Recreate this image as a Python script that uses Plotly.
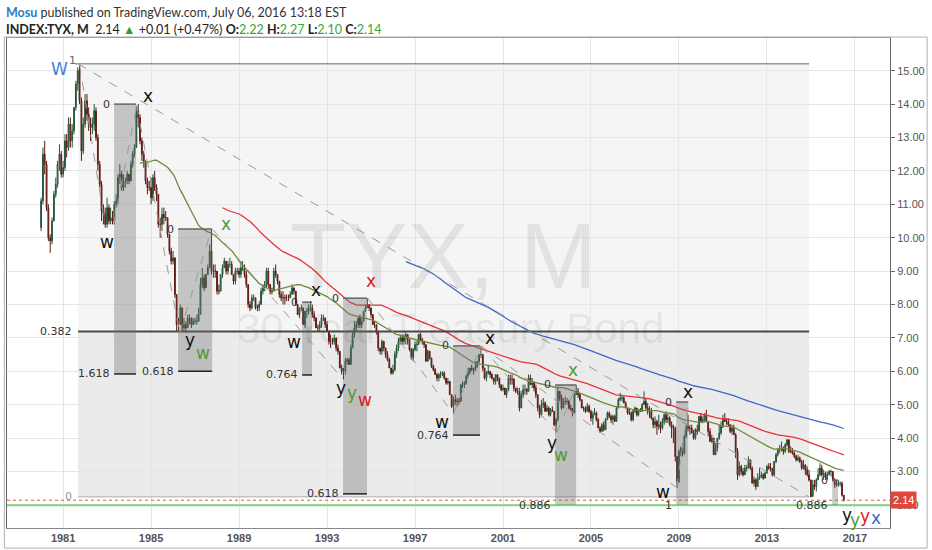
import plotly.graph_objects as go
import pandas as pd
from datetime import datetime, timedelta

# ---------------- DATA (monthly, Jan 1980 - Jul 2016) ----------------
first_open = 10.3
close_by_year = {
    1980: [11.1, 12.5, 12.2, 10.9, 10.0, 9.9, 10.5, 11.3, 11.6, 12.2, 12.5, 11.9],
    1981: [12.1, 12.9, 12.7, 13.4, 12.9, 13.2, 13.9, 14.6, 15.0, 14.1, 12.6, 13.4],
    1982: [14.1, 13.7, 13.4, 13.3, 13.4, 13.8, 13.0, 12.2, 11.6, 10.8, 10.7, 10.4],
    1983: [10.9, 10.5, 10.6, 10.5, 11.0, 11.1, 11.8, 11.9, 11.5, 11.7, 11.7, 11.9],
    1984: [11.7, 12.2, 12.5, 12.7, 13.8, 13.6, 12.9, 12.5, 12.3, 11.7, 11.5, 11.5],
    1985: [11.2, 11.8, 11.5, 11.3, 10.4, 10.4, 10.7, 10.6, 10.6, 10.1, 9.6, 9.3],
    1986: [9.4, 8.3, 7.4, 7.4, 7.9, 7.3, 7.4, 7.3, 7.6, 7.6, 7.4, 7.5],
    1987: [7.5, 7.5, 7.7, 8.6, 8.8, 8.5, 8.9, 9.1, 9.6, 9.0, 9.0, 9.0],
    1988: [8.4, 8.4, 8.9, 9.1, 9.3, 9.0, 9.2, 9.2, 8.9, 8.7, 9.0, 9.0],
    1989: [8.9, 9.1, 9.1, 8.9, 8.6, 8.0, 7.9, 8.2, 8.2, 7.9, 7.9, 8.0],
    1990: [8.4, 8.5, 8.6, 9.0, 8.6, 8.4, 8.4, 9.0, 8.9, 8.7, 8.3, 8.2],
    1991: [8.2, 8.2, 8.2, 8.2, 8.3, 8.5, 8.4, 8.0, 7.7, 7.9, 7.9, 7.4],
    1992: [7.8, 7.8, 7.9, 7.9, 7.7, 7.6, 7.3, 7.3, 7.4, 7.6, 7.6, 7.4],
    1993: [7.2, 6.9, 6.9, 6.9, 7.0, 6.7, 6.6, 6.1, 6.0, 6.0, 6.3, 6.35],
    1994: [6.2, 6.7, 7.1, 7.3, 7.4, 7.6, 7.4, 7.5, 7.8, 7.9, 8.0, 7.9],
    1995: [7.7, 7.4, 7.4, 7.2, 6.7, 6.6, 6.9, 6.7, 6.5, 6.35, 6.1, 5.95],
    1996: [6.05, 6.5, 6.7, 6.9, 7.0, 6.9, 7.0, 7.1, 6.95, 6.65, 6.4, 6.65],
    1997: [6.8, 6.8, 7.1, 6.95, 6.9, 6.8, 6.3, 6.6, 6.4, 6.15, 6.05, 5.9],
    1998: [5.8, 5.9, 5.9, 5.95, 5.8, 5.65, 5.7, 5.3, 4.95, 5.15, 5.1, 5.1],
    1999: [5.1, 5.6, 5.6, 5.65, 5.85, 5.95, 6.1, 6.05, 6.05, 6.15, 6.3, 6.5],
    2000: [6.5, 6.1, 5.8, 5.95, 6.0, 5.9, 5.8, 5.7, 5.9, 5.8, 5.6, 5.45],
    2001: [5.5, 5.3, 5.45, 5.8, 5.75, 5.75, 5.5, 5.4, 5.4, 4.9, 5.3, 5.45],
    2002: [5.45, 5.4, 5.8, 5.6, 5.65, 5.5, 5.3, 4.9, 4.7, 5.0, 5.05, 4.8],
    2003: [4.9, 4.7, 4.85, 4.8, 4.4, 4.55, 5.4, 5.2, 4.9, 5.1, 5.1, 5.1],
    2004: [4.9, 4.85, 4.75, 5.3, 5.4, 5.3, 5.15, 4.9, 4.9, 4.8, 4.95, 4.8],
    2005: [4.6, 4.7, 4.75, 4.55, 4.3, 4.2, 4.4, 4.25, 4.55, 4.75, 4.65, 4.55],
    2006: [4.65, 4.5, 4.9, 5.15, 5.2, 5.2, 5.05, 4.9, 4.75, 4.75, 4.55, 4.8],
    2007: [4.9, 4.7, 4.85, 4.8, 5.0, 5.1, 4.9, 4.8, 4.8, 4.6, 4.4, 4.5],
    2008: [4.35, 4.4, 4.3, 4.5, 4.7, 4.55, 4.6, 4.4, 4.3, 4.3, 3.45, 2.7],
    2009: [3.6, 3.7, 3.55, 4.05, 4.35, 4.3, 4.3, 4.15, 4.0, 4.25, 4.2, 4.65],
    2010: [4.5, 4.55, 4.7, 4.5, 4.2, 3.9, 4.0, 3.5, 3.7, 4.0, 4.15, 4.35],
    2011: [4.55, 4.5, 4.5, 4.4, 4.2, 4.3, 4.1, 3.6, 2.9, 3.15, 3.0, 2.9],
    2012: [3.1, 3.1, 3.35, 3.1, 2.65, 2.75, 2.55, 2.8, 2.85, 2.9, 2.8, 2.95],
    2013: [3.15, 3.1, 3.1, 2.9, 3.3, 3.5, 3.65, 3.7, 3.7, 3.6, 3.8, 3.95],
    2014: [3.6, 3.6, 3.55, 3.45, 3.35, 3.4, 3.3, 3.1, 3.2, 3.05, 2.9, 2.75],
    2015: [2.25, 2.6, 2.55, 2.75, 2.9, 3.1, 2.9, 2.95, 2.85, 2.9, 3.0, 3.0],
    2016: [2.75, 2.6, 2.6, 2.65, 2.65, 2.29, 2.14],
}
high_by_year = {
    1980: [11.2, 12.7, 12.9, 12.3, 11.0, 10.1, 10.6, 11.4, 11.8, 12.3, 12.8, 12.6],
    1981: [12.3, 13.1, 13.1, 13.6, 13.6, 13.4, 13.9, 14.7, 15.1, 15.21, 14.2, 13.6],
    1982: [14.3, 14.3, 13.9, 13.6, 13.6, 14.0, 13.9, 13.1, 12.3, 11.7, 11.0, 10.9],
    1983: [11.2, 11.0, 10.9, 10.8, 11.1, 11.3, 11.9, 12.2, 12.0, 11.9, 11.8, 12.0],
    1984: [11.9, 12.3, 12.6, 12.8, 13.95, 14.0, 13.7, 13.0, 12.6, 12.3, 11.8, 11.7],
    1985: [11.8, 11.9, 12.0, 11.6, 11.3, 10.6, 10.9, 10.9, 10.8, 10.6, 10.1, 9.7],
    1986: [9.6, 9.4, 8.3, 7.6, 8.0, 7.9, 7.6, 7.5, 7.7, 7.7, 7.6, 7.6],
    1987: [7.6, 7.7, 7.9, 8.8, 9.1, 8.9, 8.9, 9.2, 9.8, 10.25, 9.2, 9.2],
    1988: [9.0, 8.6, 8.9, 9.2, 9.4, 9.3, 9.3, 9.4, 9.3, 8.9, 9.1, 9.1],
    1989: [9.1, 9.3, 9.3, 9.2, 9.0, 8.6, 8.1, 8.3, 8.3, 8.2, 8.0, 8.1],
    1990: [8.5, 8.6, 8.7, 9.1, 9.1, 8.6, 8.5, 9.1, 9.2, 8.9, 8.7, 8.4],
    1991: [8.4, 8.3, 8.3, 8.3, 8.4, 8.6, 8.5, 8.4, 8.0, 7.9, 8.0, 7.9],
    1992: [7.8, 7.9, 8.0, 8.1, 8.0, 7.8, 7.6, 7.4, 7.5, 7.7, 7.7, 7.6],
    1993: [7.5, 7.2, 7.1, 7.0, 7.1, 7.0, 6.8, 6.6, 6.2, 6.1, 6.4, 6.4],
    1994: [6.4, 6.8, 7.2, 7.5, 7.5, 7.6, 7.7, 7.6, 7.8, 8.0, 8.19, 8.0],
    1995: [7.9, 7.7, 7.5, 7.4, 7.2, 6.7, 6.95, 6.9, 6.7, 6.6, 6.4, 6.1],
    1996: [6.2, 6.6, 6.8, 7.0, 7.1, 7.1, 7.1, 7.2, 7.1, 6.95, 6.7, 6.7],
    1997: [6.9, 6.9, 7.1, 7.15, 7.0, 6.9, 6.8, 6.65, 6.6, 6.4, 6.2, 6.1],
    1998: [5.95, 5.95, 6.0, 6.0, 6.0, 5.8, 5.8, 5.7, 5.3, 5.25, 5.3, 5.2],
    1999: [5.2, 5.6, 5.7, 5.7, 5.9, 6.1, 6.1, 6.2, 6.1, 6.3, 6.3, 6.5],
    2000: [6.76, 6.5, 6.1, 6.0, 6.2, 6.0, 5.95, 5.8, 5.9, 5.9, 5.8, 5.6],
    2001: [5.6, 5.5, 5.5, 5.9, 5.9, 5.9, 5.8, 5.5, 5.5, 5.5, 5.4, 5.6],
    2002: [5.6, 5.5, 5.9, 5.9, 5.8, 5.7, 5.6, 5.3, 5.0, 5.15, 5.2, 5.1],
    2003: [5.0, 4.95, 4.9, 4.95, 4.8, 4.6, 5.5, 5.4, 5.3, 5.2, 5.25, 5.2],
    2004: [5.15, 5.0, 4.9, 5.35, 5.59, 5.5, 5.35, 5.15, 4.95, 4.95, 5.05, 5.0],
    2005: [4.85, 4.8, 4.9, 4.8, 4.6, 4.35, 4.45, 4.5, 4.6, 4.8, 4.8, 4.7],
    2006: [4.7, 4.7, 4.95, 5.2, 5.35, 5.3, 5.25, 5.1, 4.9, 4.9, 4.8, 4.85],
    2007: [4.95, 4.9, 4.85, 4.9, 5.05, 5.4, 5.2, 5.05, 4.95, 4.9, 4.6, 4.65],
    2008: [4.55, 4.7, 4.5, 4.6, 4.75, 4.8, 4.75, 4.65, 4.5, 4.4, 4.35, 3.45],
    2009: [3.65, 3.75, 3.85, 4.1, 4.4, 4.7, 4.4, 4.4, 4.25, 4.3, 4.4, 4.65],
    2010: [4.75, 4.65, 4.75, 4.85, 4.5, 4.3, 4.1, 4.0, 3.85, 4.0, 4.4, 4.5],
    2011: [4.7, 4.75, 4.6, 4.6, 4.4, 4.4, 4.4, 4.15, 3.7, 3.3, 3.2, 3.1],
    2012: [3.2, 3.2, 3.45, 3.35, 3.15, 2.85, 2.8, 2.95, 3.1, 3.0, 2.95, 3.0],
    2013: [3.2, 3.25, 3.25, 3.1, 3.3, 3.55, 3.7, 3.8, 3.9, 3.75, 3.85, 3.97],
    2014: [3.95, 3.75, 3.7, 3.6, 3.5, 3.5, 3.45, 3.35, 3.35, 3.2, 3.15, 3.05],
    2015: [2.75, 2.75, 2.75, 2.8, 3.1, 3.25, 3.2, 3.05, 3.0, 3.0, 3.05, 3.05],
    2016: [3.0, 2.8, 2.75, 2.75, 2.7, 2.7, 2.27],
}
low_by_year = {
    1980: [10.2, 11.0, 11.9, 10.8, 9.9, 9.55, 9.8, 10.5, 11.2, 11.5, 12.0, 11.8],
    1981: [11.8, 12.0, 12.4, 12.6, 12.7, 12.7, 13.1, 13.8, 14.4, 14.0, 12.3, 12.5],
    1982: [13.3, 13.5, 13.2, 12.9, 13.1, 13.2, 12.9, 12.0, 11.5, 10.5, 10.4, 10.3],
    1983: [10.3, 10.4, 10.4, 10.4, 10.4, 10.9, 11.0, 11.6, 11.4, 11.4, 11.5, 11.6],
    1984: [11.6, 11.7, 12.1, 12.4, 12.7, 13.3, 12.8, 12.3, 12.1, 11.6, 11.3, 11.4],
    1985: [11.0, 11.1, 11.4, 11.1, 10.3, 10.0, 10.2, 10.4, 10.5, 10.0, 9.5, 9.2],
    1986: [9.2, 8.2, 7.2, 7.2, 7.4, 7.2, 7.2, 7.15, 7.3, 7.4, 7.3, 7.4],
    1987: [7.4, 7.4, 7.5, 7.7, 8.5, 8.4, 8.5, 8.9, 9.1, 8.9, 8.8, 8.8],
    1988: [8.3, 8.3, 8.4, 8.8, 9.1, 8.9, 8.9, 9.1, 8.9, 8.6, 8.6, 8.9],
    1989: [8.8, 8.8, 9.0, 8.8, 8.5, 7.9, 7.8, 7.85, 8.1, 7.85, 7.8, 7.8],
    1990: [8.0, 8.3, 8.4, 8.5, 8.5, 8.3, 8.3, 8.4, 8.8, 8.6, 8.2, 8.1],
    1991: [8.0, 8.0, 8.1, 8.1, 8.2, 8.3, 8.3, 8.0, 7.7, 7.6, 7.8, 7.4],
    1992: [7.3, 7.6, 7.7, 7.8, 7.6, 7.5, 7.3, 7.2, 7.2, 7.3, 7.5, 7.3],
    1993: [7.2, 6.8, 6.7, 6.8, 6.8, 6.6, 6.5, 6.1, 5.9, 5.75, 5.9, 6.2],
    1994: [6.2, 6.2, 6.7, 7.0, 7.2, 7.3, 7.3, 7.3, 7.5, 7.8, 7.9, 7.8],
    1995: [7.6, 7.4, 7.3, 7.1, 6.6, 6.5, 6.5, 6.6, 6.4, 6.3, 6.1, 5.9],
    1996: [5.9, 6.0, 6.4, 6.6, 6.8, 6.8, 6.8, 6.8, 6.8, 6.6, 6.35, 6.3],
    1997: [6.6, 6.6, 6.8, 6.9, 6.8, 6.7, 6.3, 6.3, 6.35, 6.1, 6.0, 5.9],
    1998: [5.7, 5.7, 5.8, 5.85, 5.75, 5.6, 5.6, 5.3, 4.9, 4.72, 5.0, 4.95],
    1999: [5.0, 5.1, 5.5, 5.5, 5.6, 5.8, 5.9, 6.0, 5.9, 6.0, 6.1, 6.25],
    2000: [6.4, 6.0, 5.75, 5.7, 5.9, 5.8, 5.75, 5.6, 5.6, 5.7, 5.5, 5.4],
    2001: [5.4, 5.3, 5.2, 5.4, 5.6, 5.6, 5.4, 5.35, 5.3, 4.8, 4.9, 5.2],
    2002: [5.3, 5.3, 5.4, 5.6, 5.5, 5.4, 5.2, 4.8, 4.6, 4.65, 4.9, 4.8],
    2003: [4.8, 4.65, 4.65, 4.8, 4.35, 4.16, 4.5, 5.1, 4.85, 4.9, 5.0, 5.0],
    2004: [4.85, 4.8, 4.65, 4.8, 5.3, 5.2, 5.1, 4.9, 4.8, 4.75, 4.8, 4.75],
    2005: [4.5, 4.4, 4.7, 4.5, 4.3, 4.15, 4.2, 4.2, 4.25, 4.55, 4.6, 4.45],
    2006: [4.4, 4.5, 4.5, 4.9, 5.1, 5.1, 5.05, 4.9, 4.7, 4.7, 4.5, 4.5],
    2007: [4.75, 4.65, 4.65, 4.8, 4.8, 5.0, 4.85, 4.7, 4.6, 4.55, 4.3, 4.3],
    2008: [4.1, 4.25, 4.15, 4.25, 4.4, 4.45, 4.45, 4.35, 4.0, 3.85, 3.3, 2.52],
    2009: [2.65, 3.45, 3.45, 3.5, 4.0, 4.2, 4.1, 4.15, 3.95, 3.95, 4.1, 4.2],
    2010: [4.45, 4.45, 4.5, 4.5, 4.05, 3.9, 3.85, 3.5, 3.5, 3.6, 3.95, 4.1],
    2011: [4.3, 4.5, 4.4, 4.35, 4.15, 4.1, 4.1, 3.4, 2.75, 2.85, 2.9, 2.85],
    2012: [2.9, 3.0, 3.1, 3.05, 2.65, 2.55, 2.45, 2.55, 2.75, 2.8, 2.75, 2.8],
    2013: [2.95, 3.05, 3.0, 2.85, 2.85, 3.25, 3.45, 3.55, 3.6, 3.5, 3.55, 3.75],
    2014: [3.55, 3.55, 3.5, 3.4, 3.3, 3.3, 3.25, 3.05, 3.05, 2.9, 2.85, 2.7],
    2015: [2.22, 2.25, 2.45, 2.4, 2.75, 2.85, 2.85, 2.75, 2.75, 2.75, 2.9, 2.85],
    2016: [2.7, 2.5, 2.55, 2.55, 2.55, 2.25, 2.10],
}
ma_lengths = {"short": 55, "mid": 100, "long": 200}
year_ticks = [1981, 1985, 1989, 1993, 1997, 2001, 2005, 2009, 2013, 2017]
fib_main = {"start": (1981.68, 15.21), "end": (2014.92, 2.24), "mid_ratio": 0.382}
last_price = 2.14
support_level = 1.99

# ------------- helpers -------------
def yd(v):
    y = int(v)
    return (datetime(y, 1, 1) + timedelta(days=(v - y) * 365.25)).strftime("%Y-%m-%d")

closes, highs, lows = [], [], []
for yr in sorted(close_by_year):
    closes += close_by_year[yr]
    highs += high_by_year[yr]
    lows += low_by_year[yr]
opens = [first_open] + closes[:-1]
dates = pd.date_range("1980-01-01", periods=len(closes), freq="MS")
s = pd.Series(closes)

fig = go.Figure()
fig.add_trace(go.Candlestick(
    x=dates, open=opens, high=highs, low=lows, close=closes,
    increasing=dict(line=dict(color="#225437", width=1), fillcolor="#5f9e77"),
    decreasing=dict(line=dict(color="#5b1a13", width=1), fillcolor="#c9453a"),
    hoverinfo="skip", showlegend=False))

for key, col in [("short", "#6f8a3a"), ("mid", "#e8333a"), ("long", "#3d68c9")]:
    fig.add_trace(go.Scatter(x=dates, y=s.rolling(ma_lengths[key]).mean(), mode="lines",
                             line=dict(color=col, width=1.3), hoverinfo="skip", showlegend=False))

shapes = []
(fx0, fy1), (fx1, fy0) = fib_main["start"], fib_main["end"]
fmid = fy0 + fib_main["mid_ratio"] * (fy1 - fy0)
shapes += [
    dict(type="rect", x0=yd(fx0), x1=yd(fx1), y0=fmid, y1=fy1, fillcolor="rgba(120,120,120,0.07)", line_width=0, layer="below"),
    dict(type="rect", x0=yd(fx0), x1=yd(fx1), y0=fy0, y1=fmid, fillcolor="rgba(120,120,120,0.15)", line_width=0, layer="below"),
    dict(type="line", x0=yd(fx0 - 0.15), x1=yd(fx1), y0=fy1, y1=fy1, line=dict(color="#999", width=1.5)),
    dict(type="line", x0=yd(fx0), x1=yd(fx1), y0=fmid, y1=fmid, line=dict(color="#4a4a4a", width=2)),
    dict(type="line", x0=yd(fx0), x1=yd(fx1), y0=fy0, y1=fy0, line=dict(color="#aaa", width=1)),
    dict(type="line", x0=yd(fx0), x1=yd(fx1), y0=fy1, y1=fy0, line=dict(color="#999", width=1, dash="dash")),
]

# small fib boxes: (x0, x1, top, bottom, ratio label, bottom line colour)
boxes = [
    (1983.32, 1984.32, 14.0, 5.92, "1.618", "#222"),
    (1986.23, 1987.78, 10.26, 6.0, "0.618", "#222"),
    (1991.87, 1992.32, 8.07, 5.89, "0.764", "#222"),
    (1993.73, 1994.82, 8.19, 2.33, "0.618", "#222"),
    (1998.73, 1999.96, 6.76, 4.09, "0.764", "#222"),
    (2003.37, 2004.33, 5.59, 1.99, "0.886", "#2e7d32"),
    (2008.88, 2009.42, 5.08, 1.99, "1", "#2e7d32"),
    (2015.97, 2016.24, 2.74, 1.99, "0.886", "#222"),
]
annotations = []
for x0, x1, top, bot, lab, bcol in boxes:
    shapes.append(dict(type="rect", x0=yd(x0), x1=yd(x1), y0=bot, y1=top,
                       fillcolor="rgba(110,110,110,0.36)", line_width=0, layer="above"))
    shapes.append(dict(type="line", x0=yd(x0), x1=yd(x1), y0=top, y1=top, line=dict(color="#666", width=1.5)))
    shapes.append(dict(type="line", x0=yd(x0), x1=yd(x1), y0=bot, y1=bot, line=dict(color=bcol, width=1.5)))
    annotations.append(dict(x=yd(x0 - 0.1), y=top, text="0", xanchor="right", yanchor="middle", showarrow=False,
                            font=dict(family="DejaVu Sans", size=11, color="#333")))
    annotations.append(dict(x=yd(x0 - 0.1), y=bot, text=lab, xanchor="right", yanchor="middle", showarrow=False,
                            font=dict(family="DejaVu Sans", size=11, color="#333")))

# dashed wave connectors (year, price) -> (year, price)
connectors = [
    ((1981.75, 15.2), (1982.9, 10.4)),
    ((1983.3, 10.4), (1984.35, 13.95)),
    ((1984.35, 13.95), (1986.3, 7.15)),
    ((1986.3, 7.15), (1987.75, 10.25)),
    ((1987.8, 10.25), (1993.75, 5.75)),
    ((1994.85, 8.19), (1998.75, 4.72)),
    ((1998.75, 4.72), (2000.0, 6.76)),
    ((2000.0, 6.76), (2003.45, 4.16)),
    ((2003.45, 4.16), (2004.35, 5.59)),
    ((2000.0, 6.76), (2008.9, 2.52)),
    ((2008.9, 2.52), (2009.45, 5.08)),
]
for (ax, ay), (bx, by) in connectors:
    shapes.append(dict(type="line", x0=yd(ax), y0=ay, x1=yd(bx), y1=by,
                       line=dict(color="#9a9a9a", width=1, dash="dash")))

shapes += [
    dict(type="line", xref="paper", x0=0, x1=1, y0=last_price, y1=last_price, line=dict(color="#e5534b", width=1, dash="dot")),
    dict(type="line", xref="paper", x0=0, x1=1, y0=support_level, y1=support_level, line=dict(color="#7ed67e", width=2)),
    dict(type="rect", xref="paper", yref="paper", x0=-0.003, x1=1.042, y0=-0.041, y1=1.002,
         line=dict(color="#b0b0b0", width=1), fillcolor="rgba(0,0,0,0)"),
]

# wave labels (year, price, text, colour)
waves = [
    (1980.86, 15.05, "W", "#4a7fd4"),
    (1984.87, 14.24, "x", "#111"),
    (1983.0, 9.87, "w", "#111"),
    (1988.41, 10.41, "x", "#4f9a3a"),
    (1986.78, 6.94, "y", "#111"),
    (1987.37, 6.55, "w", "#4f9a3a"),
    (1991.5, 6.88, "w", "#111"),
    (1992.5, 8.44, "x", "#111"),
    (1995.0, 8.71, "x", "#e02020"),
    (1993.64, 5.5, "y", "#111"),
    (1994.14, 5.35, "y", "#4f9a3a"),
    (1994.73, 5.14, "w", "#e02020"),
    (1998.24, 4.48, "w", "#111"),
    (2000.42, 7.0, "x", "#111"),
    (2004.19, 6.04, "x", "#4f9a3a"),
    (2003.24, 3.85, "y", "#111"),
    (2003.65, 3.5, "w", "#4f9a3a"),
    (2008.29, 2.39, "w", "#111"),
    (2009.42, 5.38, "x", "#111"),
    (2016.65, 1.70, "y", "#111"),
    (2017.02, 1.54, "y", "#4f9a3a"),
    (2017.47, 1.67, "y", "#e02020"),
    (2017.97, 1.61, "x", "#3d68c9"),
]
for wx, wy, t, c in waves:
    annotations.append(dict(x=yd(wx), y=wy, text=t, showarrow=False,
                            font=dict(family="DejaVu Sans", size=17, color=c)))

annotations += [
    dict(x=yd(1981.41), y=15.3, text="1", showarrow=False, font=dict(family="DejaVu Sans", size=11, color="#666")),
    dict(x=yd(fx0 - 0.2), y=fmid, text="0.382", xanchor="right", showarrow=False,
         font=dict(family="DejaVu Sans", size=11, color="#333")),
    dict(x=yd(fx0 - 0.2), y=fy0, text="0", xanchor="right", showarrow=False,
         font=dict(family="DejaVu Sans", size=11, color="#999")),
    # watermark
    dict(xref="paper", yref="paper", x=0.494, y=0.555, text="TYX, M", showarrow=False,
         font=dict(family="Liberation Sans", size=92, color="rgba(0,0,0,0.075)")),
    dict(xref="paper", yref="paper", x=0.502, y=0.408, text="30 Year Treasury Bond", showarrow=False,
         font=dict(family="Liberation Sans", size=42, color="rgba(0,0,0,0.075)")),
    # price label
    dict(xref="paper", x=1.0, y=last_price, text=f"{last_price:.2f}", xanchor="left", showarrow=False,
         bgcolor="#e0463a", font=dict(family="Liberation Sans", size=11, color="white"), borderpad=2),
    # header
    dict(xref="paper", yref="paper", x=-0.003, y=1.053, xanchor="left", yanchor="middle", showarrow=False,
         text='<span style="color:#2a7dc4"><b>Mosu</b></span> published on TradingView.com, July 06, 2016 13:18 EST',
         font=dict(family="Lato", size=12.5, color="#333")),
    dict(xref="paper", yref="paper", x=-0.003, y=1.018, xanchor="left", yanchor="middle", showarrow=False,
         text='<b>INDEX:TYX, M</b>  2.14 <span style="color:#2ca02c">▲</span> +0.01 (+0.47%) '
              '<b>O:</b><span style="color:#3aa33a">2.22</span> <b>H:</b><span style="color:#3aa33a">2.27</span> '
              '<b>L:</b><span style="color:#3aa33a">2.10</span> <b>C:</b><span style="color:#3aa33a">2.14</span>',
         font=dict(family="Lato", size=12.5, color="#222")),
]

fig.update_layout(
    width=932, height=550, margin=dict(l=7, r=42, t=38, b=22),
    paper_bgcolor="white", plot_bgcolor="white", showlegend=False,
    shapes=shapes, annotations=annotations,
    xaxis=dict(type="date", range=["1978-06-14", "2018-08-07"], rangeslider=dict(visible=False),
               tickvals=[f"{y}-01-01" for y in year_ticks], ticktext=[f"<b>{y}</b>" for y in year_ticks],
               showgrid=True, gridcolor="#e6e6e6", showline=True, linecolor="#888", mirror=True,
               tickfont=dict(family="Liberation Sans", size=11, color="#555"), ticks=""),
    yaxis=dict(side="right", range=[1.308, 15.98], tick0=0, dtick=1, tickformat=".2f",
               showgrid=True, gridcolor="#e6e6e6", showline=True, linecolor="#666", mirror=True,
               ticks="outside", ticklen=4, tickcolor="#666",
               tickfont=dict(family="Liberation Sans", size=11, color="#555")),
)
fig.write_html("out.html", config={"displayModeBar": False},
               post_script="document.body.style.margin='0';document.body.style.padding='0';")
